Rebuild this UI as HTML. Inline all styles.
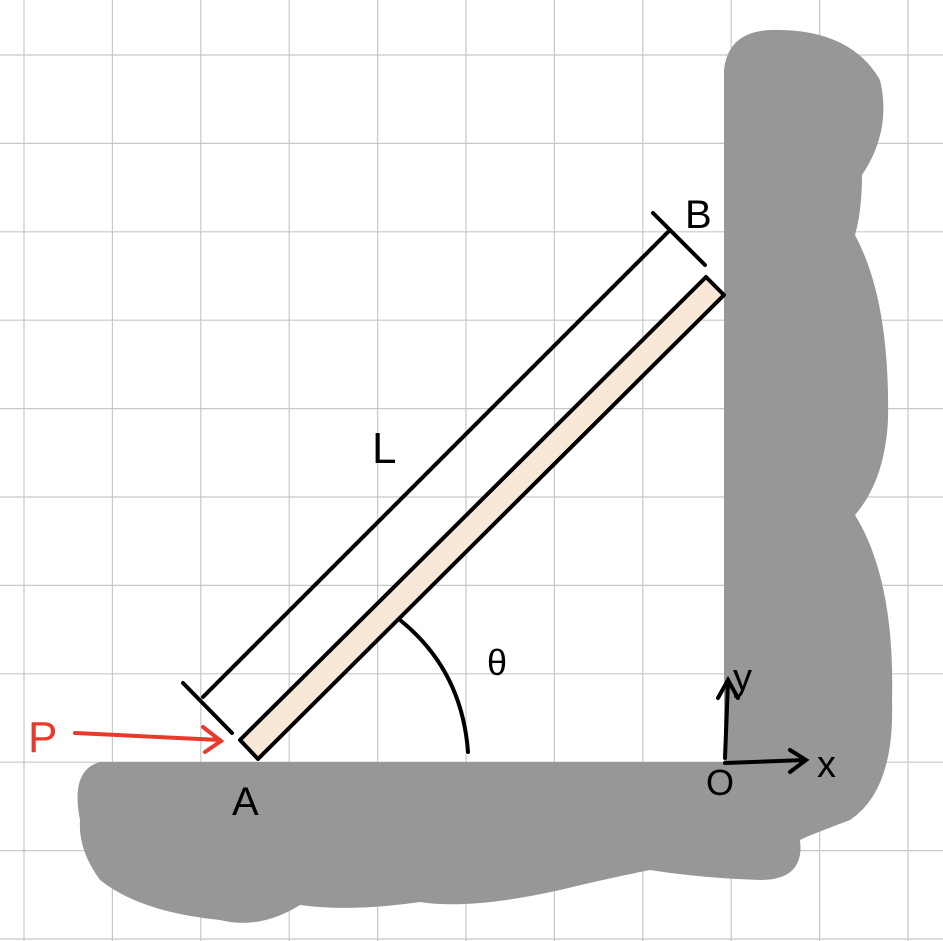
<!DOCTYPE html>
<html><head><meta charset="utf-8"><style>
html,body{margin:0;padding:0;background:#fff;}
svg{display:block;}
text{font-family:"Liberation Sans",sans-serif;}
</style></head><body>
<svg width="943" height="941" viewBox="0 0 943 941" xmlns="http://www.w3.org/2000/svg">
<g id="grid" stroke="#c8c8c8" stroke-width="1.2"></g>
<path fill="#979797" d="M724,70 Q728,32 770,30 Q850,28 880,80 Q892,130 862,175 Q862,210 855,235 Q890,300 888,420 Q885,480 855,515 Q895,580 892,700 Q895,790 850,820 Q810,835 800,840 Q805,880 760,880 Q700,878 650,870 Q600,880 560,890 Q470,910 420,902 Q350,912 300,905 Q260,930 220,920 Q140,912 100,880 Q78,850 80,820 Q70,770 100,762 L724,762 Z"/>
<g>
<polygon points="240,740 706,277 724,295 258,759" fill="#f9e8d8" stroke="#000" stroke-width="4" stroke-linejoin="round"/>
</g>
<g stroke="#000" stroke-width="4" fill="none" stroke-linecap="round">
<line x1="203" y1="697" x2="668" y2="232"/>
<line x1="183" y1="683" x2="232" y2="733"/>
<line x1="653" y1="213" x2="705" y2="265"/>
<path d="M400,620 Q462,670 468,752"/>
<path d="M725,758 L728,682 M718,698 L728,680 L738,698"/>
<path d="M725,763 L805,760 M790,750 L806,760 L790,772"/>
</g>
<g stroke="#e8392b" stroke-width="4" fill="none" stroke-linecap="round">
<path d="M75,733 L220,740 M203,727 L221,741 L205,752"/>
</g>
<text x="28" y="752" font-size="44" fill="#e8392b">P</text>
<text x="232" y="815" font-size="40" fill="#000">A</text>
<text x="685" y="228" font-size="40" fill="#000">B</text>
<text x="372" y="463" font-size="44" fill="#000">L</text>
<text x="487" y="675" font-size="36" fill="#000">θ</text>
<text x="733" y="690" font-size="38" fill="#000">y</text>
<text x="817" y="777" font-size="38" fill="#000">x</text>
<text x="706" y="795" font-size="36" fill="#000">O</text>
</svg>
<script>
const g=document.getElementById('grid');
const ns='http://www.w3.org/2000/svg';
for(let i=0;i<11;i++){
  const x=24+i*88.4;
  const l=document.createElementNS(ns,'line');
  l.setAttribute('x1',x);l.setAttribute('x2',x);l.setAttribute('y1',0);l.setAttribute('y2',941);
  
  
  g.appendChild(l);
  const y=55+i*88.4;
  const h=document.createElementNS(ns,'line');
  h.setAttribute('x1',0);h.setAttribute('x2',943);h.setAttribute('y1',y);h.setAttribute('y2',y);
  
  
  g.appendChild(h);
}
</script>
</body></html>
